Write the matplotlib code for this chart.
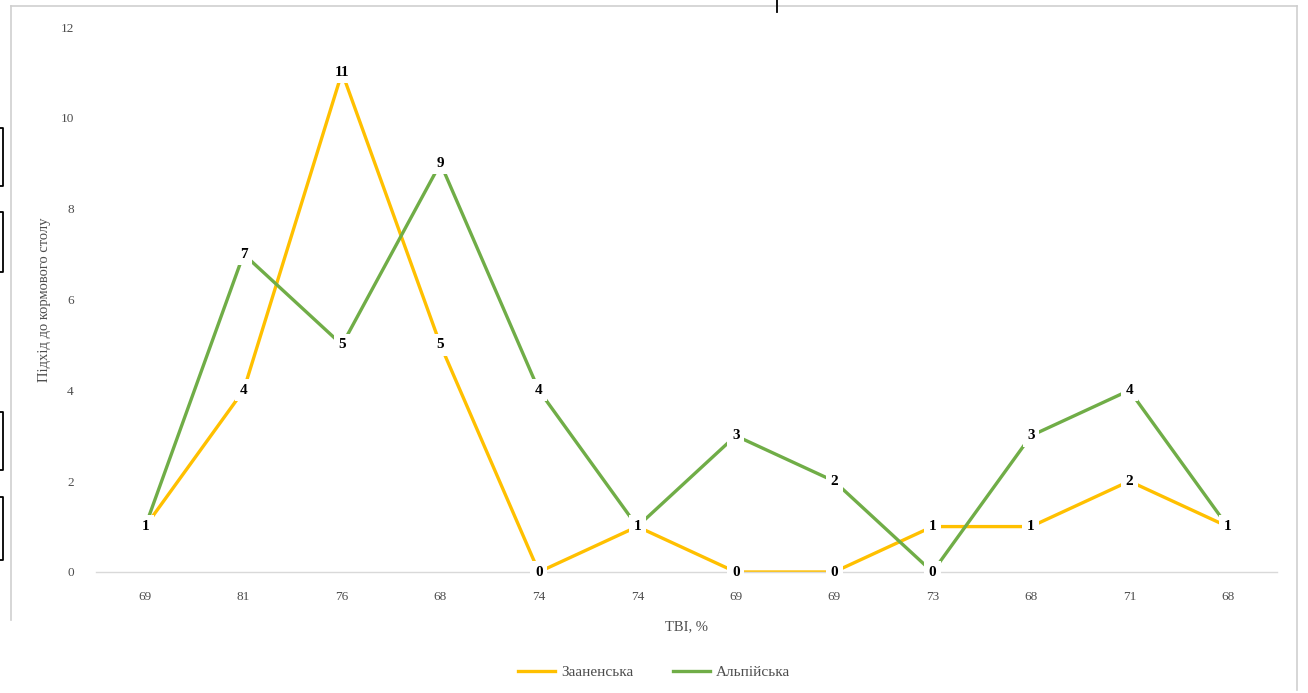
import matplotlib.pyplot as plt
from matplotlib.lines import Line2D

# THI values for each observation point and approaches to the feed table
thi_labels = ["69", "81", "76", "68", "74", "74", "69", "69", "73", "68", "71", "68"]
saanen = [1, 4, 11, 5, 0, 1, 0, 0, 1, 1, 2, 1]
alpine = [1, 7, 5, 9, 4, 1, 3, 2, 0, 3, 4, 1]

saanen_color = "#FFC000"
alpine_color = "#70AD47"

plt.rcParams["font.family"] = ["Liberation Serif", "DejaVu Serif"]

W, H = 1308, 693
fig = plt.figure(figsize=(W / 100, H / 100), dpi=100)
ax = fig.add_axes([96 / W, 1 - 572 / H, (1277 - 96) / W, (572 - 27) / H])

x = list(range(len(thi_labels)))
ax.plot(x, saanen, color=saanen_color, lw=2.4, solid_capstyle="round", zorder=2,
        label="Зааненська")
ax.plot(x, alpine, color=alpine_color, lw=2.4, solid_capstyle="round", zorder=2,
        label="Альпійська")

# value labels sit on the points with a white box that cuts the line
box = dict(boxstyle="square,pad=0.3", fc="white", ec="none")
for xi, v in zip(x, saanen):
    ax.text(xi, v, str(v), ha="center", va="center", fontsize=11,
            fontweight="bold", color="black", bbox=box, zorder=4)
for xi, v, s in zip(x, alpine, saanen):
    if v == s:
        continue
    ax.text(xi, v, str(v), ha="center", va="center", fontsize=11,
            fontweight="bold", color="black", bbox=box, zorder=4)

ax.set_xlim(-0.5, len(x) - 0.5)
ax.set_ylim(0, 12)
ax.set_yticks(range(0, 13, 2))
ax.set_xticks(x)
ax.set_xticklabels(thi_labels)
ax.tick_params(axis="both", length=0, labelsize=9.5, labelcolor="#4d4d4d")
ax.tick_params(axis="y", pad=16)
ax.tick_params(axis="x", pad=14)

for side in ["top", "right", "left"]:
    ax.spines[side].set_visible(False)
ax.spines["bottom"].set_color("#d9d9d9")
ax.spines["bottom"].set_linewidth(1)

ax.set_xlabel("ТВІ, %", fontsize=10.5, color="#4d4d4d", labelpad=12)
ax.set_ylabel("Підхід до кормового столу", fontsize=10.5, color="#4d4d4d", labelpad=7)

handles = [Line2D([], [], color=saanen_color, lw=2.4),
           Line2D([], [], color=alpine_color, lw=2.4)]
fig.legend(handles, ["Зааненська", "Альпійська"], loc="center",
           bbox_to_anchor=(0.5, 1 - 672 / H), ncol=2, frameon=False,
           fontsize=11, labelcolor="#4d4d4d", handlelength=2.4,
           handletextpad=0.4, columnspacing=2.6)

# frame around the chart area
frame = dict(color="#cfcfcf", lw=1.2, transform=fig.transFigure)
fig.add_artist(Line2D([11 / W, 1297 / W], [1 - 6 / H, 1 - 6 / H], **frame))
fig.add_artist(Line2D([1297 / W, 1297 / W], [1 - 6 / H, 1 - 690 / H], **frame))
fig.add_artist(Line2D([11 / W, 11 / W], [1 - 6 / H, 1 - 620 / H], **frame))

# page brackets at the left edge and a small mark at the top
brk = dict(color="black", lw=1.3, transform=fig.transFigure)
for y0, y1 in [(128, 186), (212, 272), (412, 470), (497, 560)]:
    fig.add_artist(Line2D([0, 3 / W, 3 / W, 0],
                          [1 - y0 / H, 1 - y0 / H, 1 - y1 / H, 1 - y1 / H], **brk))
fig.add_artist(Line2D([777 / W, 777 / W], [1, 1 - 12 / H], **brk))

fig.savefig("out.png", dpi=100)
